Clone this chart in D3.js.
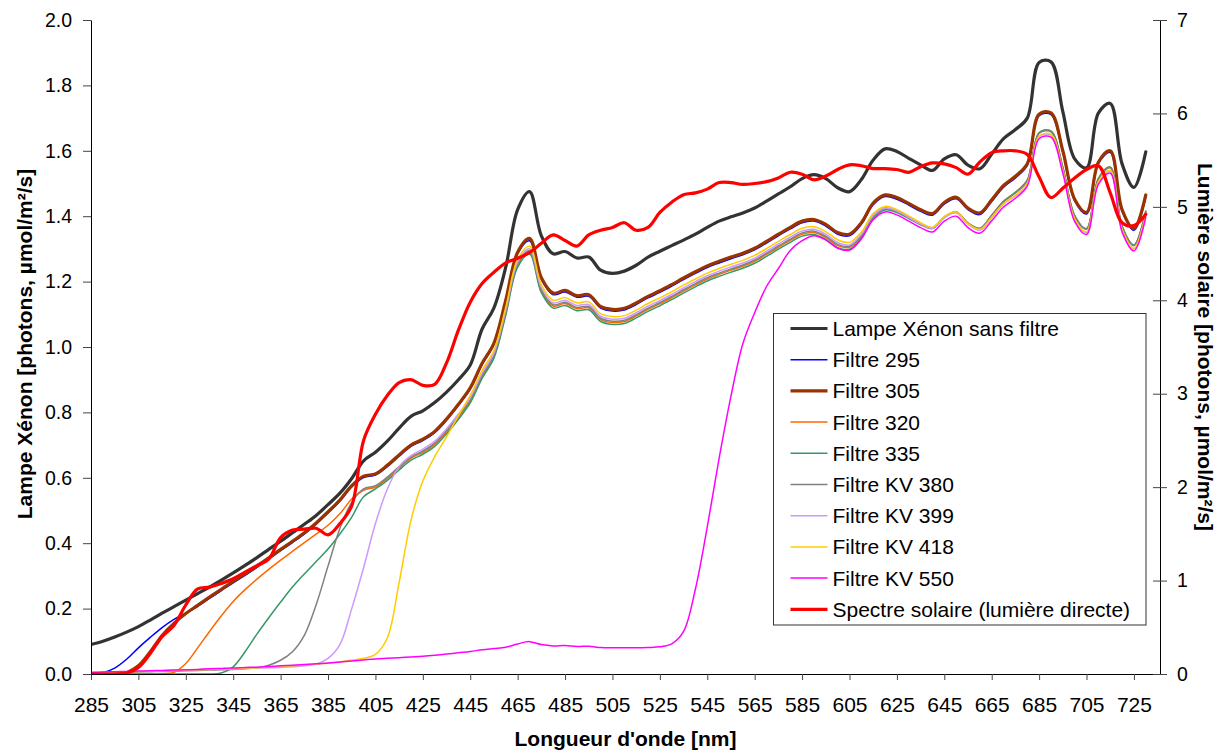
<!DOCTYPE html>
<html>
<head>
<meta charset="utf-8">
<script src="https://cdn.jsdelivr.net/npm/d3@7"></script>
<style>
  body { margin: 0; background: #fff; }
  svg { display: block; }
  text { font-family: "Liberation Sans", Arial, sans-serif; fill: #000; }
</style>
</head>
<body>
<svg id="chart" width="1223" height="752"></svg>
<script>
// ---------------- DATA ----------------
const wavelengths = [285,290,295,300,305,310,315,320,325,330,
  335,340,345,350,355,360,365,370,375,380,
  385,390,395,400,405,410,415,420,425,430,
  435,440,445,450,455,460,465,470,475,480,
  485,490,495,500,505,510,515,520,525,530,
  535,540,545,550,555,560,565,570,575,580,
  585,590,595,600,605,610,615,620,625,630,
  635,640,645,650,655,660,665,670,675,680,
  685,690,695,700,705,710,715,720,725,730];

const xenon = [0.090,0.100,0.113,0.128,0.145,0.165,0.186,0.206,0.226,0.246,
  0.266,0.287,0.309,0.332,0.356,0.381,0.406,0.432,0.458,0.485,
  0.518,0.553,0.598,0.652,0.678,0.712,0.752,0.788,0.805,0.830,
  0.862,0.900,0.945,1.055,1.120,1.245,1.420,1.475,1.340,1.285,
  1.292,1.272,1.275,1.235,1.225,1.232,1.250,1.275,1.293,1.310,
  1.327,1.345,1.366,1.385,1.398,1.410,1.425,1.446,1.468,1.490,
  1.515,1.527,1.515,1.487,1.475,1.512,1.572,1.606,1.598,1.577,
  1.557,1.540,1.575,1.588,1.556,1.545,1.590,1.637,1.665,1.700,
  1.870,1.872,1.720,1.575,1.548,1.715,1.745,1.560,1.488,1.597];

const filtre295 = [0,0.004,0.018,0.045,0.080,0.112,0.142,0.167,0.186,0.207,
  0.231,0.255,0.279,0.302,0.326,0.351,0.377,0.402,0.428,0.458,
  0.492,0.528,0.572,0.601,0.608,0.634,0.666,0.696,0.714,0.738,
  0.776,0.821,0.871,0.946,1.008,1.140,1.285,1.325,1.207,1.160,
  1.168,1.152,1.155,1.119,1.110,1.113,1.130,1.150,1.167,1.186,
  1.206,1.225,1.243,1.257,1.270,1.282,1.297,1.318,1.340,1.361,
  1.380,1.385,1.370,1.345,1.340,1.375,1.435,1.460,1.452,1.434,
  1.415,1.403,1.437,1.453,1.420,1.405,1.445,1.489,1.517,1.555,
  1.707,1.711,1.595,1.447,1.407,1.560,1.595,1.415,1.357,1.460];

const filtre305 = [0,0,0,0.004,0.025,0.068,0.118,0.155,0.185,0.210,
  0.235,0.259,0.283,0.306,0.330,0.355,0.381,0.406,0.432,0.462,
  0.496,0.532,0.576,0.605,0.612,0.638,0.670,0.700,0.718,0.742,
  0.780,0.825,0.875,0.950,1.012,1.144,1.290,1.332,1.212,1.165,
  1.173,1.157,1.160,1.124,1.115,1.118,1.135,1.155,1.172,1.191,
  1.211,1.230,1.248,1.262,1.275,1.287,1.302,1.323,1.345,1.366,
  1.385,1.390,1.375,1.350,1.345,1.380,1.440,1.465,1.457,1.439,
  1.420,1.408,1.442,1.458,1.425,1.410,1.450,1.494,1.522,1.560,
  1.712,1.716,1.600,1.452,1.412,1.565,1.600,1.420,1.362,1.465];

const filtre320 = [0,0,0,0,0,0,0.001,0.005,0.032,0.080,
  0.130,0.178,0.222,0.258,0.290,0.320,0.348,0.375,0.402,0.428,
  0.455,0.490,0.535,0.562,0.572,0.598,0.630,0.660,0.678,0.702,
  0.740,0.785,0.835,0.910,0.972,1.104,1.250,1.290,1.172,1.125,
  1.133,1.117,1.120,1.084,1.075,1.078,1.095,1.115,1.132,1.151,
  1.171,1.190,1.208,1.222,1.235,1.247,1.262,1.283,1.305,1.326,
  1.345,1.350,1.335,1.310,1.305,1.339,1.399,1.423,1.415,1.396,
  1.376,1.364,1.397,1.413,1.379,1.363,1.403,1.446,1.473,1.510,
  1.655,1.660,1.550,1.402,1.362,1.515,1.550,1.370,1.312,1.415];

const filtre335 = [0,0,0,0,0,0,0,0,0,0,
  0,0.003,0.022,0.068,0.122,0.172,0.220,0.266,0.306,0.344,
  0.382,0.428,0.480,0.542,0.566,0.592,0.624,0.654,0.672,0.696,
  0.734,0.779,0.829,0.904,0.966,1.098,1.244,1.284,1.166,1.119,
  1.127,1.111,1.114,1.078,1.069,1.072,1.089,1.109,1.126,1.145,
  1.165,1.184,1.202,1.216,1.229,1.241,1.256,1.277,1.299,1.320,
  1.339,1.344,1.329,1.304,1.299,1.334,1.394,1.419,1.411,1.393,
  1.374,1.362,1.396,1.412,1.378,1.362,1.402,1.445,1.473,1.510,
  1.655,1.660,1.550,1.402,1.362,1.515,1.550,1.370,1.312,1.415];

const filtreKV380 = [0.003,0.004,0.005,0.005,0.006,0.007,0.008,0.009,0.010,0.011,
  0.012,0.013,0.014,0.016,0.019,0.027,0.042,0.068,0.118,0.212,
  0.330,0.445,0.525,0.566,0.576,0.602,0.634,0.664,0.682,0.706,
  0.744,0.789,0.839,0.914,0.976,1.108,1.254,1.294,1.176,1.129,
  1.137,1.121,1.124,1.088,1.079,1.082,1.099,1.119,1.136,1.155,
  1.175,1.194,1.212,1.226,1.239,1.251,1.266,1.287,1.309,1.330,
  1.349,1.354,1.339,1.314,1.308,1.342,1.401,1.425,1.416,1.397,
  1.378,1.365,1.398,1.413,1.379,1.363,1.402,1.444,1.471,1.508,
  1.653,1.658,1.548,1.400,1.360,1.513,1.548,1.368,1.310,1.413];

const filtreKV399 = [0.004,0.005,0.006,0.007,0.008,0.009,0.010,0.011,0.012,0.013,
  0.014,0.015,0.016,0.017,0.018,0.019,0.020,0.022,0.025,0.031,
  0.048,0.090,0.200,0.325,0.460,0.565,0.635,0.668,0.688,0.712,
  0.750,0.795,0.845,0.920,0.982,1.114,1.260,1.300,1.182,1.135,
  1.143,1.127,1.130,1.094,1.085,1.088,1.105,1.125,1.142,1.161,
  1.181,1.200,1.218,1.232,1.245,1.257,1.272,1.293,1.315,1.336,
  1.355,1.360,1.345,1.320,1.312,1.345,1.402,1.425,1.416,1.396,
  1.376,1.363,1.395,1.410,1.375,1.357,1.395,1.437,1.462,1.498,
  1.643,1.648,1.538,1.390,1.350,1.503,1.538,1.358,1.300,1.403];

const filtreKV418 = [0.004,0.005,0.006,0.007,0.008,0.009,0.010,0.011,0.012,0.013,
  0.014,0.015,0.016,0.018,0.019,0.021,0.023,0.025,0.027,0.030,
  0.033,0.037,0.042,0.048,0.060,0.110,0.280,0.470,0.590,0.665,
  0.725,0.790,0.852,0.928,0.990,1.122,1.268,1.308,1.190,1.143,
  1.151,1.135,1.138,1.102,1.093,1.096,1.113,1.133,1.150,1.169,
  1.189,1.208,1.226,1.240,1.253,1.265,1.280,1.301,1.323,1.344,
  1.363,1.368,1.353,1.328,1.320,1.351,1.408,1.430,1.420,1.401,
  1.380,1.366,1.399,1.413,1.377,1.360,1.397,1.439,1.464,1.500,
  1.645,1.650,1.540,1.392,1.352,1.505,1.540,1.360,1.302,1.405];

const filtreKV550 = [0.005,0.006,0.007,0.008,0.009,0.010,0.011,0.012,0.013,0.014,
  0.016,0.017,0.018,0.020,0.021,0.023,0.025,0.027,0.029,0.031,
  0.034,0.037,0.040,0.043,0.046,0.048,0.050,0.052,0.054,0.057,
  0.061,0.065,0.069,0.074,0.078,0.082,0.092,0.099,0.090,0.086,
  0.087,0.084,0.085,0.081,0.080,0.080,0.080,0.081,0.083,0.092,
  0.130,0.260,0.450,0.660,0.850,1.010,1.105,1.185,1.240,1.295,
  1.325,1.340,1.327,1.302,1.296,1.330,1.389,1.413,1.404,1.385,
  1.365,1.352,1.385,1.400,1.365,1.348,1.386,1.428,1.455,1.492,
  1.637,1.642,1.532,1.384,1.344,1.497,1.532,1.352,1.294,1.397];

// right axis (solar spectrum)
const solaire = [0,0,0,0.01,0.07,0.22,0.40,0.52,0.74,0.91,
  0.93,0.97,1.02,1.09,1.16,1.23,1.46,1.54,1.55,1.56,
  1.49,1.61,1.80,2.50,2.78,2.98,3.12,3.15,3.09,3.10,
  3.33,3.68,3.98,4.18,4.30,4.40,4.45,4.51,4.61,4.70,
  4.64,4.58,4.70,4.75,4.78,4.83,4.75,4.78,4.94,5.05,
  5.13,5.15,5.19,5.26,5.26,5.24,5.25,5.27,5.31,5.37,
  5.35,5.29,5.33,5.40,5.45,5.44,5.41,5.41,5.40,5.37,
  5.43,5.47,5.46,5.42,5.35,5.48,5.58,5.60,5.60,5.56,
  5.32,5.10,5.20,5.31,5.40,5.44,5.15,4.83,4.80,4.92];

const seriesNames = ["Lampe Xénon sans filtre","Filtre 295","Filtre 305","Filtre 320","Filtre 335",
  "Filtre KV 380","Filtre KV 399","Filtre KV 418","Filtre KV 550","Spectre solaire (lumière directe)"];

const xTickValues = [285,305,325,345,365,385,405,425,445,465,485,505,525,545,565,585,605,625,645,665,685,705,725];
const leftTickValues = [0,0.2,0.4,0.6,0.8,1.0,1.2,1.4,1.6,1.8,2.0];
const rightTickValues = [0,1,2,3,4,5,6,7];

const xTitle = "Longueur d'onde [nm]";
const yLeftTitle = "Lampe Xénon [photons, µmol/m²/s]";
const yRightTitle = "Lumière solaire [photons, µmol/m²/s]";

// ---------------- STYLES ----------------
const seriesValues = [xenon, filtre295, filtre305, filtre320, filtre335, filtreKV380, filtreKV399, filtreKV418, filtreKV550, solaire];
const colors = ["#333333","#0000FF","#993300","#FF6600","#339966","#808080","#CC99FF","#FFCC00","#FF00FF","#FF0000"];
const widths = [3.2,1.5,3.2,1.5,1.5,1.5,1.5,1.5,1.5,3.2];
const onRight = [false,false,false,false,false,false,false,false,false,true];

// ---------------- LAYOUT ----------------
const X0 = 91, X1 = 1160, YB = 674, YT = 20;
const svg = d3.select("#chart");

const x = d3.scaleLinear().domain([285, 736]).range([X0, X1]);
const yL = d3.scaleLinear().domain([0, 2]).range([YB, YT]);
const yR = d3.scaleLinear().domain([0, 7]).range([YB, YT]);

svg.append("defs").append("clipPath").attr("id", "plotclip")
  .append("rect").attr("x", X0).attr("y", YT - 10).attr("width", X1 - X0).attr("height", YB - YT + 10);

const plot = svg.append("g").attr("clip-path", "url(#plotclip)");

seriesValues.forEach((vals, k) => {
  const yS = onRight[k] ? yR : yL;
  const line = d3.line()
    .x((d, i) => x(wavelengths[i]))
    .y(d => yS(d))
    .curve(d3.curveCatmullRom.alpha(0.5));
  plot.append("path")
    .datum(vals)
    .attr("fill", "none")
    .attr("stroke", colors[k])
    .attr("stroke-width", widths[k])
    .attr("stroke-linejoin", "round")
    .attr("stroke-linecap", "round")
    .attr("d", line);
});

// Axes
const gx = svg.append("g").attr("transform", `translate(0,${YB})`)
  .call(d3.axisBottom(x).tickValues(xTickValues).tickFormat(d3.format("d"))
    .tickSize(6).tickSizeOuter(0).tickPadding(17));
gx.selectAll("text").style("font-size", "21px");

const gl = svg.append("g").attr("transform", `translate(${X0},0)`)
  .call(d3.axisLeft(yL).tickValues(leftTickValues).tickFormat(d3.format(".1f"))
    .tickSize(8).tickSizeOuter(0).tickPadding(11));
gl.selectAll("text").style("font-size", "19.5px");

const gr = svg.append("g").attr("transform", `translate(${X1},0)`)
  .call(d3.axisRight(yR).tickValues(rightTickValues).tickFormat(d3.format("d"))
    .tickSize(7).tickSizeOuter(0).tickPadding(10));
gr.selectAll(".tick line").attr("x1", -7);
gr.selectAll("text").style("font-size", "19.5px");

[gx, gl, gr].forEach(g => {
  g.select(".domain").attr("stroke", "#000").attr("stroke-width", 1);
  g.selectAll(".tick line").attr("stroke", "#444");
  g.selectAll("text").attr("fill", "#000").style("font-family", '"Liberation Sans", Arial, sans-serif');
});

// Titles
svg.append("text").attr("x", (X0 + X1) / 2).attr("y", 746)
  .attr("text-anchor", "middle").style("font-size", "21px").style("font-weight", "bold")
  .text(xTitle);

svg.append("text").attr("transform", `translate(31.5,${(YT + YB) / 2 - 3}) rotate(-90)`)
  .attr("text-anchor", "middle").style("font-size", "21px").style("font-weight", "bold")
  .text(yLeftTitle);

svg.append("text").attr("transform", `translate(1198,${(YT + YB) / 2}) rotate(90)`)
  .attr("text-anchor", "middle").style("font-size", "21px").style("font-weight", "bold")
  .text(yRightTitle);

// Legend
const LX = 773.5, LY = 313.5, LW = 372.5, LH = 311.5, rowH = 31.2;
const lg = svg.append("g");
lg.append("rect").attr("x", LX).attr("y", LY).attr("width", LW).attr("height", LH)
  .attr("fill", "#fff").attr("stroke", "#333").attr("stroke-width", 1);
seriesNames.forEach((name, k) => {
  const cy = 328.5 + k * rowH;
  lg.append("line").attr("x1", 790.5).attr("x2", 827.5).attr("y1", cy).attr("y2", cy)
    .attr("stroke", colors[k]).attr("stroke-width", widths[k]);
  lg.append("text").attr("x", 832.5).attr("y", cy + 7.5).style("font-size", "21px").text(name);
});
</script>
</body>
</html>
